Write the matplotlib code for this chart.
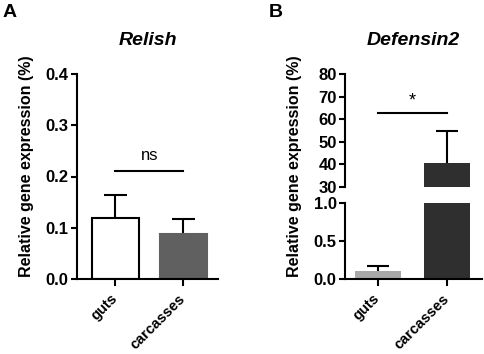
import matplotlib
matplotlib.use("Agg")
import matplotlib.pyplot as plt

# Data
groups = ["guts", "carcasses"]

relish_mean = [0.12, 0.088]
relish_err = [0.043, 0.030]

defensin_mean = [0.11, 40.6]
defensin_err = [0.06, 14.4]

relish_colors = ["white", "#606060"]
defensin_colors = ["#a8a8a8", "#2f2f2f"]

relish_ticks = [0.0, 0.1, 0.2, 0.3, 0.4]
defensin_low_ticks = [0.0, 0.5, 1.0]
defensin_high_ticks = [30, 40, 50, 60, 70, 80]

plt.rcParams["font.family"] = ["Liberation Sans", "DejaVu Sans"]
plt.rcParams["font.weight"] = "bold"
plt.rcParams["axes.linewidth"] = 1.5

W, H = 484, 354
fig = plt.figure(figsize=(W / 100, H / 100), dpi=100)


def frac(x0, y_top, x1, y_bot):
    return [x0 / W, 1 - y_bot / H, (x1 - x0) / W, (y_bot - y_top) / H]


def style(ax, bottom=True):
    for s in ["top", "right"]:
        ax.spines[s].set_visible(False)
    if not bottom:
        ax.spines["bottom"].set_visible(False)
        ax.tick_params(axis="x", bottom=False, labelbottom=False)
    ax.tick_params(axis="y", width=1.5, length=4.5, labelsize=12, pad=1.5)
    ax.tick_params(axis="x", width=1.5, length=5, labelsize=10.5, pad=7.5)


def rotate_labels(ax):
    for lab in ax.get_xticklabels():
        lab.set_rotation(45)
        lab.set_ha("right")
        lab.set_va("center")
        lab.set_rotation_mode("anchor")
        lab.set_fontweight("bold")


def up_errorbars(ax, xs, means, errs, cap=0.17):
    # upward-only error bars with a cap at the top (GraphPad style)
    tops = [m + e for m, e in zip(means, errs)]
    ax.vlines(xs, means, tops, color="black", lw=1.5, zorder=1)
    ax.hlines(tops, [xi - cap for xi in xs], [xi + cap for xi in xs],
              color="black", lw=1.5, zorder=1)


x = [0, 1]

# ===== Panel A: Relish =====
axA = fig.add_axes(frac(77, 74, 218, 279))
axA.bar(x, relish_mean, width=0.69, color=relish_colors,
        edgecolor=["black", relish_colors[1]], linewidth=1.5, zorder=2)
up_errorbars(axA, x, relish_mean, relish_err)
axA.set_xlim(-0.56, 1.51)
axA.set_ylim(0, 0.4)
axA.set_yticks(relish_ticks)
axA.set_yticklabels([f"{t:.1f}" for t in relish_ticks], fontweight="bold")
axA.set_xticks(x)
axA.set_xticklabels(groups)
style(axA)
rotate_labels(axA)
axA.plot([0, 1], [0.21, 0.21], color="black", lw=1.5)
axA.text(0.5, 0.226, "ns", ha="center", va="bottom", fontsize=12, fontweight="normal")
axA.set_title("Relish", fontsize=14, fontweight="bold", style="italic", pad=21)
fig.text(27 / W, 1 - 166 / H, "Relative gene expression (%)", rotation=90,
         ha="center", va="center", fontsize=11.5, fontweight="bold")
fig.text(3 / W, 1 - 17 / H, "A", fontsize=14, fontweight="bold")

# ===== Panel B: Defensin2 (broken axis) =====
axB_low = fig.add_axes(frac(345, 203, 482, 279))
axB_high = fig.add_axes(frac(345, 74, 482, 187))

for ax in (axB_low, axB_high):
    ax.bar(x, defensin_mean, width=0.66, color=defensin_colors, linewidth=0, zorder=2)
    up_errorbars(ax, x, defensin_mean, defensin_err, cap=0.16)
    ax.set_xlim(-0.47, 1.5)

axB_low.set_ylim(0, 1.0)
axB_low.set_yticks(defensin_low_ticks)
axB_low.set_yticklabels([f"{t:.1f}" for t in defensin_low_ticks], fontweight="bold")
axB_low.set_xticks(x)
axB_low.set_xticklabels(groups)
style(axB_low)
rotate_labels(axB_low)

axB_high.set_ylim(30, 80)
axB_high.set_yticks(defensin_high_ticks)
axB_high.set_yticklabels([str(t) for t in defensin_high_ticks], fontweight="bold")
style(axB_high, bottom=False)
axB_high.plot([0, 1], [62.7, 62.7], color="black", lw=1.5)
axB_high.text(0.5, 64.5, "*", ha="center", va="bottom", fontsize=13, fontweight="normal")
axB_high.set_title("Defensin2", fontsize=14, fontweight="bold", style="italic", pad=21)

fig.text(295 / W, 1 - 166 / H, "Relative gene expression (%)", rotation=90,
         ha="center", va="center", fontsize=11.5, fontweight="bold")
fig.text(269 / W, 1 - 17 / H, "B", fontsize=14, fontweight="bold")

fig.savefig("out.png", dpi=100)
